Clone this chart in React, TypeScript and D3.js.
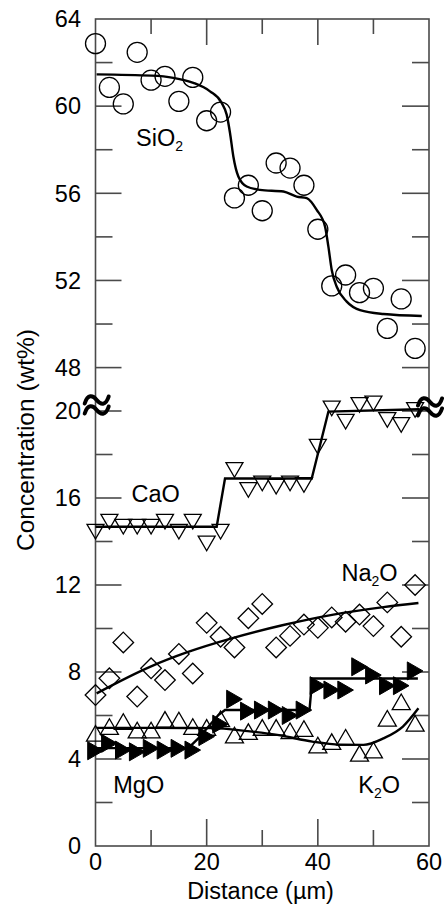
import React from "react";
import * as d3 from "d3";

// ---------- data ----------
const distance = [0, 2.5, 5, 7.5, 10, 12.5, 15, 17.5, 20, 22.5, 25, 27.5, 30, 32.5, 35, 37.5, 40, 42.5, 45, 47.5, 50, 52.5, 55, 57.5];

const sio2 = [62.87, 60.86, 60.1, 62.47, 61.19, 61.37, 60.22, 61.32, 59.33, 59.73, 55.79, 56.37, 55.2, 57.39, 57.16, 56.37, 54.35, 51.75, 52.25, 51.44, 51.64, 49.8, 51.15, 48.88];
const cao = [14.45, 14.91, 14.68, 14.68, 14.68, 14.91, 14.45, 14.91, 13.91, 14.45, 17.29, 16.37, 16.67, 16.52, 16.67, 16.6, 18.36, 20.12, 19.51, 20.28, 20.35, 19.59, 19.36, 20.05];
const na2o = [6.94, 7.71, 9.36, 6.87, 8.17, 7.63, 8.83, 7.93, 10.26, 9.62, 9.13, 10.47, 11.13, 9.13, 9.66, 10.18, 10.03, 10.51, 10.31, 10.64, 10.11, 11.2, 9.62, 12.0];
const mgo = [4.38, 4.72, 4.41, 4.33, 4.49, 4.41, 4.49, 4.41, 5.03, 5.6, 6.75, 6.2, 6.25, 6.25, 6.0, 6.25, 7.37, 7.17, 7.17, 8.24, 7.86, 7.37, 7.37, 8.05];
const k2o = [5.18, 5.49, 5.72, 5.33, 5.33, 5.82, 5.79, 5.49, 5.45, 5.85, 5.1, 5.26, 5.45, 5.45, 5.3, 5.4, 4.64, 4.8, 5.0, 4.26, 4.41, 5.87, 6.63, 5.64];

// fitted model curves
const sio2FitX = [0.2, 10.1, 14, 17.6, 20.6, 22.7, 23.6, 24.2, 24.8, 25.7, 27.2, 29.6, 33.8, 36.2, 38, 39.8, 41.3, 41.9, 42.5, 43.4, 45.2, 47.6, 51.8, 58.7];
const sio2FitY = [61.46, 61.4, 61.3, 61.07, 60.68, 60.15, 59.61, 58.77, 57.69, 56.77, 56.31, 56.16, 56.08, 55.85, 55.78, 55.24, 54.47, 53.55, 52.48, 51.71, 51.03, 50.64, 50.46, 50.37];
const caoFitX = [0, 21.8, 23.3, 38.9, 41.9, 58.2];
const caoFitY = [14.68, 14.68, 16.9, 16.9, 19.97, 20.08];
const na2oFitX = [0.2, 9.8, 16.4, 24.8, 33.8, 42.8, 51.8, 58.1];
const na2oFitY = [7.02, 8.24, 8.9, 9.57, 10.16, 10.64, 10.98, 11.17];
const mgoFitX = [0, 16.7, 18.5, 20.3, 22.1, 23.3, 38.5, 39.0, 58.0];
const mgoFitY = [4.5, 4.5, 4.95, 5.48, 6.02, 6.25, 6.25, 7.7, 7.7];
const k2oFitX = [0.2, 10, 20.9, 27.4, 33, 39, 44, 48.2, 51.8, 55.3, 58.1];
const k2oFitY = [5.43, 5.43, 5.42, 5.28, 5.1, 4.8, 4.66, 4.65, 4.95, 5.49, 6.33];

const xTicksMajor = [0, 20, 40, 60];
const xTicksMinor = [10, 30, 50];
const yLowMajor = [0, 4, 8, 12, 16, 20];
const yLowMinor = [2, 6, 10, 14, 18];
const yHighMajor = [48, 52, 56, 60, 64];
const yHighMinor = [50, 54, 58, 62];

// ---------- layout ----------
const W = 444;
const H = 904;
const left = 95.5;
const right = 429;
const top = 19;
const bottom = 846;
const FONT = "'Liberation Sans', Arial, Helvetica, sans-serif";
const FRAME = "#4a4a4a";

const x = d3.scaleLinear().domain([0, 60]).range([left, right]);
const yLow = d3.scaleLinear().domain([0, 20]).range([bottom, 411]);
const yHigh = d3.scaleLinear().domain([48, 64]).range([367.6, top]);

function fitPath(xs: number[], ys: number[], ys2: d3.ScaleLinear<number, number>, curve: d3.CurveFactory) {
  const pts = xs.map((d, i) => [d, ys[i]] as [number, number]);
  return d3.line<[number, number]>().x((d) => x(d[0])).y((d) => ys2(d[1])).curve(curve)(pts) || "";
}

function triPath(cx: number, cy: number, s: number, dir: "up" | "down" | "right") {
  const h = (s * Math.sqrt(3)) / 2;
  if (dir === "up") return `M${cx - s / 2},${cy + h / 2}L${cx + s / 2},${cy + h / 2}L${cx},${cy - h / 2}Z`;
  if (dir === "down") return `M${cx - s / 2},${cy - h / 2}L${cx + s / 2},${cy - h / 2}L${cx},${cy + h / 2}Z`;
  return `M${cx - h / 2},${cy - s / 2}L${cx - h / 2},${cy + s / 2}L${cx + h / 2},${cy}Z`;
}

function diamondPath(cx: number, cy: number, r: number) {
  return `M${cx},${cy - r}L${cx + r},${cy}L${cx},${cy + r}L${cx - r},${cy}Z`;
}

function breakPath(cx: number, cy: number) {
  const wave = (yy: number) =>
    `M${cx - 12},${yy + 3.5}C${cx - 9},${yy - 6} ${cx - 4},${yy - 5} ${cx},${yy}S${cx + 9},${yy + 6} ${cx + 12},${yy - 3.5}`;
  return wave(cy - 5) + wave(cy + 5);
}

export default function App() {
  const labelStyle = { fontFamily: FONT, fontSize: 23.5, fill: "#000" } as const;
  return (
    <svg width={W} height={H} style={{ position: "absolute", left: 0, top: 0, background: "#fff" }}>
      {/* frame */}
      <rect x={left} y={top} width={right - left} height={bottom - top} fill="none" stroke={FRAME} strokeWidth={1.6} />

      {/* x ticks */}
      {xTicksMajor.filter((t) => t > 0 && t < 60).map((t) => (
        <g key={"xM" + t}>
          <line x1={x(t)} x2={x(t)} y1={top} y2={top + 26} stroke={FRAME} strokeWidth={1.6} />
          <line x1={x(t)} x2={x(t)} y1={bottom} y2={bottom - 27} stroke={FRAME} strokeWidth={1.6} />
        </g>
      ))}
      {xTicksMinor.map((t) => (
        <g key={"xm" + t}>
          <line x1={x(t)} x2={x(t)} y1={top} y2={top + 15} stroke={FRAME} strokeWidth={1.6} />
          <line x1={x(t)} x2={x(t)} y1={bottom} y2={bottom - 16} stroke={FRAME} strokeWidth={1.6} />
        </g>
      ))}
      {xTicksMajor.map((t) => (
        <text key={"xl" + t} x={x(t)} y={870} textAnchor="middle" {...labelStyle}>
          {t}
        </text>
      ))}

      {/* y ticks */}
      {[...yLowMajor.map((t) => yLow(t)), ...yHighMajor.map((t) => yHigh(t))]
        .filter((py) => py > top + 1 && py < bottom - 1)
        .map((py, i) => (
          <g key={"yM" + i}>
            <line x1={left} x2={left + 26} y1={py} y2={py} stroke={FRAME} strokeWidth={1.6} />
            <line x1={right} x2={right - 27} y1={py} y2={py} stroke={FRAME} strokeWidth={1.6} />
          </g>
        ))}
      {[...yLowMinor.map((t) => yLow(t)), ...yHighMinor.map((t) => yHigh(t))].map((py, i) => (
        <g key={"ym" + i}>
          <line x1={left} x2={left + 17} y1={py} y2={py} stroke={FRAME} strokeWidth={1.6} />
          <line x1={right} x2={right - 17} y1={py} y2={py} stroke={FRAME} strokeWidth={1.6} />
        </g>
      ))}
      {yLowMajor.map((t) => (
        <text key={"yl" + t} x={81} y={yLow(t)} dy="0.35em" textAnchor="end" {...labelStyle}>
          {t}
        </text>
      ))}
      {yHighMajor.map((t) => (
        <text key={"yh" + t} x={81} y={yHigh(t)} dy="0.35em" textAnchor="end" {...labelStyle}>
          {t}
        </text>
      ))}

      {/* axis break marks */}
      <path d={breakPath(96.7, 405)} fill="none" stroke="#000" strokeWidth={4} strokeLinecap="round" />
      <path d={breakPath(430, 407)} fill="none" stroke="#000" strokeWidth={4} strokeLinecap="round" />

      {/* axis titles */}
      <text x={260.5} y={899} textAnchor="middle" {...labelStyle} fontSize={23.5}>
        Distance (µm)
      </text>
      <text transform="translate(34,440) rotate(-90)" textAnchor="middle" {...labelStyle} fontSize={24.5}>
        Concentration (wt%)
      </text>

      {/* SiO2 */}
      {distance.map((d, i) => (
        <circle key={"s" + i} cx={x(d)} cy={yHigh(sio2[i])} r={10} fill="none" stroke="#000" strokeWidth={1.3} />
      ))}
      <path d={fitPath(sio2FitX, sio2FitY, yHigh, d3.curveMonotoneX)} fill="none" stroke="#000" strokeWidth={2.4} />

      {/* CaO */}
      {distance.map((d, i) => (
        <path key={"c" + i} d={triPath(x(d), yLow(cao[i]), 17, "down")} fill="none" stroke="#000" strokeWidth={1.3} />
      ))}
      <path d={fitPath(caoFitX, caoFitY, yLow, d3.curveLinear)} fill="none" stroke="#000" strokeWidth={2.4} />

      {/* Na2O */}
      {distance.map((d, i) => (
        <path key={"n" + i} d={diamondPath(x(d), yLow(na2o[i]), 10.3)} fill="none" stroke="#000" strokeWidth={1.3} />
      ))}
      <path d={fitPath(na2oFitX, na2oFitY, yLow, d3.curveMonotoneX)} fill="none" stroke="#000" strokeWidth={2.4} />

      {/* K2O */}
      {distance.map((d, i) => (
        <path key={"k" + i} d={triPath(x(d), yLow(k2o[i]), 18, "up")} fill="none" stroke="#000" strokeWidth={1.3} />
      ))}
      <path d={fitPath(k2oFitX, k2oFitY, yLow, d3.curveMonotoneX)} fill="none" stroke="#000" strokeWidth={2.4} />

      {/* MgO */}
      {distance.map((d, i) => (
        <path key={"m" + i} d={triPath(x(d), yLow(mgo[i]), 18, "right")} fill="#000" stroke="#000" strokeWidth={1} />
      ))}
      <path d={fitPath(mgoFitX, mgoFitY, yLow, d3.curveLinear)} fill="none" stroke="#000" strokeWidth={2.4} />

      {/* series labels */}
      <text x={136} y={146} {...labelStyle}>
        SiO<tspan fontSize={14} dy={5}>2</tspan>
      </text>
      <text x={131.5} y={501.5} {...labelStyle}>
        CaO
      </text>
      <text x={341.5} y={581} {...labelStyle}>
        Na<tspan fontSize={14} dy={5}>2</tspan>
        <tspan dy={-5}>O</tspan>
      </text>
      <text x={113.3} y={792.7} {...labelStyle}>
        MgO
      </text>
      <text x={358.3} y={792.7} {...labelStyle}>
        K<tspan fontSize={14} dy={5}>2</tspan>
        <tspan dy={-5}>O</tspan>
      </text>
    </svg>
  );
}
